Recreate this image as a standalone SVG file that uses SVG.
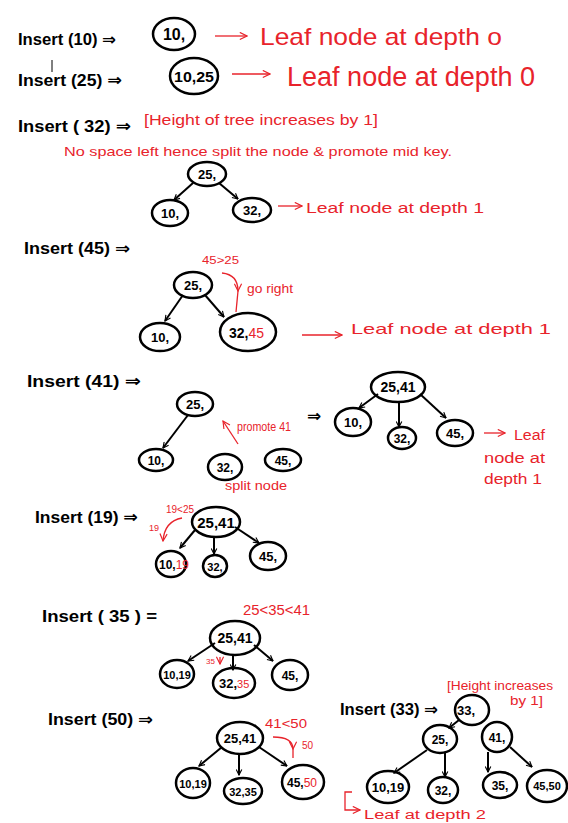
<svg xmlns="http://www.w3.org/2000/svg" width="568" height="823" viewBox="0 0 568 823">
<defs>
<style>
.bg{fill:#fff}
.n{fill:none;stroke:#000;stroke-width:2.5}
.k{font-family:"Liberation Sans","DejaVu Sans",sans-serif;font-weight:bold;fill:#000}
.r{font-family:"Liberation Sans","DejaVu Sans",sans-serif;fill:#e8232b}
.rn{fill:#e8232b;font-weight:normal}
.e{stroke:#000;stroke-width:2;fill:none}
.re{stroke:#e8232b;stroke-width:1.3;fill:none}
</style>
<marker id="ab" viewBox="0 0 10 10" refX="9" refY="5" markerWidth="7" markerHeight="7" orient="auto" markerUnits="userSpaceOnUse">
<path d="M1,1 L9,5 L1,9" fill="none" stroke="#000" stroke-width="1.6"/>
</marker>
<marker id="ar" viewBox="0 0 10 10" refX="9" refY="5" markerWidth="9" markerHeight="9" orient="auto" markerUnits="userSpaceOnUse">
<path d="M1,1 L9,5 L1,9" fill="none" stroke="#e8232b" stroke-width="1.3"/>
</marker>
</defs>
<rect class="bg" width="568" height="823"/>

<g id="labels">
<text class="k" x="18" y="45" font-size="16" textLength="98" lengthAdjust="spacingAndGlyphs">Insert (10) ⇒</text>
<line x1="52" y1="60" x2="52" y2="72" stroke="#000" stroke-width="1"/>
<text class="k" x="18" y="86" font-size="17" textLength="104" lengthAdjust="spacingAndGlyphs">Insert (25) ⇒</text>
<text class="k" x="18" y="132" font-size="17" textLength="113" lengthAdjust="spacingAndGlyphs">Insert ( 32) ⇒</text>
<text class="k" x="24" y="254" font-size="16" textLength="106" lengthAdjust="spacingAndGlyphs">Insert (45) ⇒</text>
<text class="k" x="27" y="387" font-size="17" textLength="114" lengthAdjust="spacingAndGlyphs">Insert (41) ⇒</text>
<text class="k" x="35" y="523" font-size="17" textLength="103" lengthAdjust="spacingAndGlyphs">Insert (19) ⇒</text>
<text class="k" x="42" y="622" font-size="17" textLength="115" lengthAdjust="spacingAndGlyphs">Insert ( 35 ) =</text>
<text class="k" x="48" y="725" font-size="16" textLength="105" lengthAdjust="spacingAndGlyphs">Insert (50) ⇒</text>
<text class="k" x="340" y="715" font-size="16" textLength="98" lengthAdjust="spacingAndGlyphs">Insert (33) ⇒</text>
<text class="k" x="307" y="422" font-size="17">⇒</text>

<text class="r" x="260" y="45" font-size="24" textLength="242" lengthAdjust="spacingAndGlyphs">Leaf node  at  depth  o</text>
<text class="r" x="287" y="86" font-size="27" textLength="248" lengthAdjust="spacingAndGlyphs">Leaf  node  at  depth  0</text>
<text class="r" x="144" y="125" font-size="15" textLength="234" lengthAdjust="spacingAndGlyphs">[Height  of  tree  increases  by 1]</text>
<text class="r" x="64" y="156" font-size="13" textLength="388" lengthAdjust="spacingAndGlyphs">No space left hence split  the  node  &amp; promote  mid key.</text>
<text class="r" x="306" y="213" font-size="14" textLength="178" lengthAdjust="spacingAndGlyphs">Leaf node  at  depth 1</text>
<text class="r" x="202" y="264" font-size="11" textLength="37" lengthAdjust="spacingAndGlyphs">45&gt;25</text>
<text class="r" x="247" y="293" font-size="13" textLength="46" lengthAdjust="spacingAndGlyphs">go right</text>
<text class="r" x="351" y="334" font-size="15" textLength="200" lengthAdjust="spacingAndGlyphs">Leaf node    at   depth  1</text>
<text class="r" x="237" y="431" font-size="12" textLength="54" lengthAdjust="spacingAndGlyphs">promote 41</text>
<text class="r" x="225" y="490" font-size="12" textLength="62" lengthAdjust="spacingAndGlyphs">split node</text>
<text class="r" x="514" y="440" font-size="14" textLength="31" lengthAdjust="spacingAndGlyphs">Leaf</text>
<text class="r" x="484" y="463" font-size="14" textLength="61" lengthAdjust="spacingAndGlyphs">node at</text>
<text class="r" x="484" y="484" font-size="14" textLength="58" lengthAdjust="spacingAndGlyphs">depth 1</text>
<text class="r" x="166" y="513" font-size="11" textLength="28" lengthAdjust="spacingAndGlyphs">19&lt;25</text>
<text class="r" x="149" y="531" font-size="9">19</text>
<text class="r" x="243" y="615" font-size="14" textLength="67" lengthAdjust="spacingAndGlyphs">25&lt;35&lt;41</text>
<text class="r" x="206" y="664" font-size="8">35</text>
<text class="r" x="265" y="728" font-size="13" textLength="42" lengthAdjust="spacingAndGlyphs">41&lt;50</text>
<text class="r" x="302" y="749" font-size="10">50</text>
<text class="r" x="447" y="690" font-size="12" textLength="106" lengthAdjust="spacingAndGlyphs">[Height  increases</text>
<text class="r" x="510" y="705" font-size="12" textLength="33" lengthAdjust="spacingAndGlyphs">by  1]</text>
<text class="r" x="364" y="819" font-size="12" textLength="122" lengthAdjust="spacingAndGlyphs">Leaf at depth 2</text>
</g>

<g id="nodes">
<g id="n10a"><ellipse class="n" cx="174" cy="34" rx="21" ry="16"/><text class="k" x="174" y="40" font-size="16" text-anchor="middle">10,</text></g>
<g id="n1025"><ellipse class="n" cx="194" cy="76" rx="24" ry="18"/><text class="k" x="194" y="82" font-size="15" text-anchor="middle" textLength="40" lengthAdjust="spacingAndGlyphs">10,25</text></g>

<g id="s3_25"><ellipse class="n" cx="207" cy="174" rx="19" ry="12"/><text class="k" x="207" y="179" font-size="13" text-anchor="middle">25,</text></g>
<g id="s3_10"><ellipse class="n" cx="170" cy="213" rx="18" ry="13"/><text class="k" x="170" y="218" font-size="13" text-anchor="middle">10,</text></g>
<g id="s3_32"><ellipse class="n" cx="252" cy="210" rx="19" ry="12"/><text class="k" x="252" y="215" font-size="13" text-anchor="middle">32,</text></g>

<g id="s4_25"><ellipse class="n" cx="193" cy="285" rx="19" ry="13"/><text class="k" x="193" y="290" font-size="13" text-anchor="middle">25,</text></g>
<g id="s4_10"><ellipse class="n" cx="160" cy="337" rx="20" ry="14"/><text class="k" x="160" y="342" font-size="13" text-anchor="middle">10,</text></g>
<g id="s4_3245"><ellipse class="n" cx="248" cy="332" rx="28" ry="19"/><text class="k" x="229" y="338" font-size="14">32,<tspan class="rn">45</tspan></text></g>

<g id="s5_25"><ellipse class="n" cx="195" cy="404" rx="18" ry="12"/><text class="k" x="195" y="409" font-size="13" text-anchor="middle">25,</text></g>
<g id="s5_10"><ellipse class="n" cx="156" cy="460" rx="17" ry="11"/><text class="k" x="156" y="465" font-size="12" text-anchor="middle">10,</text></g>
<g id="s5_32"><ellipse class="n" cx="225" cy="467" rx="17" ry="13"/><text class="k" x="225" y="472" font-size="12" text-anchor="middle">32,</text></g>
<g id="s5_45"><ellipse class="n" cx="283" cy="460" rx="18" ry="11"/><text class="k" x="283" y="465" font-size="12" text-anchor="middle">45,</text></g>
<g id="s5b_2541"><ellipse class="n" cx="398" cy="387" rx="27" ry="15"/><text class="k" x="398" y="392" font-size="14" text-anchor="middle">25,41</text></g>
<g id="s5b_10"><ellipse class="n" cx="353" cy="422" rx="18" ry="14"/><text class="k" x="353" y="427" font-size="13" text-anchor="middle">10,</text></g>
<g id="s5b_32"><ellipse class="n" cx="402" cy="438" rx="14" ry="11"/><text class="k" x="402" y="443" font-size="12" text-anchor="middle">32,</text></g>
<g id="s5b_45"><ellipse class="n" cx="455" cy="433" rx="18" ry="13"/><text class="k" x="455" y="438" font-size="13" text-anchor="middle">45,</text></g>

<g id="s6_2541"><ellipse class="n" cx="216" cy="522" rx="24" ry="15"/><text class="k" x="216" y="528" font-size="15" text-anchor="middle">25,41</text></g>
<g id="s6_1019"><ellipse class="n" cx="171" cy="564" rx="15" ry="13"/><text class="k" x="159" y="569" font-size="12">10,<tspan class="rn">19</tspan></text></g>
<g id="s6_32"><ellipse class="n" cx="215" cy="566" rx="12" ry="11"/><text class="k" x="215" y="571" font-size="11" text-anchor="middle">32,</text></g>
<g id="s6_45"><ellipse class="n" cx="268" cy="556" rx="18" ry="14"/><text class="k" x="268" y="561" font-size="13" text-anchor="middle">45,</text></g>

<g id="s7_2541"><ellipse class="n" cx="235" cy="638" rx="25" ry="17"/><text class="k" x="235" y="643" font-size="14" text-anchor="middle">25,41</text></g>
<g id="s7_1019"><ellipse class="n" cx="177" cy="674" rx="17" ry="14"/><text class="k" x="177" y="679" font-size="11" text-anchor="middle">10,19</text></g>
<g id="s7_3235"><ellipse class="n" cx="234" cy="683" rx="21" ry="15"/><text class="k" x="219" y="688" font-size="13">32,<tspan class="rn" font-size="11">35</tspan></text></g>
<g id="s7_45"><ellipse class="n" cx="290" cy="675" rx="18" ry="15"/><text class="k" x="290" y="680" font-size="12" text-anchor="middle">45,</text></g>

<g id="s8_2541"><ellipse class="n" cx="240" cy="738" rx="23" ry="16"/><text class="k" x="240" y="743" font-size="13" text-anchor="middle">25,41</text></g>
<g id="s8_1019"><ellipse class="n" cx="193" cy="783" rx="17" ry="15"/><text class="k" x="193" y="788" font-size="11" text-anchor="middle">10,19</text></g>
<g id="s8_3235"><ellipse class="n" cx="243" cy="791" rx="19" ry="13"/><text class="k" x="243" y="796" font-size="11" text-anchor="middle">32,35</text></g>
<g id="s8_4550"><ellipse class="n" cx="303" cy="782" rx="21" ry="17"/><text class="k" x="287" y="787" font-size="12">45,<tspan class="rn">50</tspan></text></g>

<g id="s9_33"><ellipse class="n" cx="472" cy="710" rx="17" ry="15"/><text class="k" x="466" y="715" font-size="13" text-anchor="middle">33,</text></g>
<g id="s9_25"><ellipse class="n" cx="440" cy="739" rx="17" ry="14"/><text class="k" x="440" y="744" font-size="12" text-anchor="middle">25,</text></g>
<g id="s9_41"><ellipse class="n" cx="497" cy="737" rx="15" ry="15"/><text class="k" x="497" y="742" font-size="12" text-anchor="middle">41,</text></g>
<g id="s9_1019"><ellipse class="n" cx="388" cy="787" rx="21" ry="16"/><text class="k" x="388" y="792" font-size="13" text-anchor="middle">10,19</text></g>
<g id="s9_32"><ellipse class="n" cx="443" cy="790" rx="15" ry="13"/><text class="k" x="443" y="795" font-size="12" text-anchor="middle">32,</text></g>
<g id="s9_35"><ellipse class="n" cx="500" cy="785" rx="17" ry="13"/><text class="k" x="500" y="790" font-size="12" text-anchor="middle">35,</text></g>
<g id="s9_4550"><ellipse class="n" cx="547" cy="786" rx="20" ry="16"/><text class="k" x="547" y="790" font-size="11" text-anchor="middle">45,50</text></g>
</g>

<g id="connectors">
<line class="re" x1="215" y1="36" x2="247" y2="36" marker-end="url(#ar)"/>
<line class="re" x1="232" y1="74" x2="270" y2="74" marker-end="url(#ar)"/>
<line class="re" x1="278" y1="206" x2="302" y2="206" marker-end="url(#ar)"/>
<line class="re" x1="302" y1="335" x2="342" y2="335" marker-end="url(#ar)"/>
<line class="re" x1="484" y1="433" x2="505" y2="433" marker-end="url(#ar)"/>
<line class="re" x1="238" y1="444" x2="223" y2="421" marker-end="url(#ar)"/>
<path class="re" d="M222,273 C232,274 238,280 238,291" marker-end="url(#ar)"/>
<line class="re" x1="238" y1="291" x2="236" y2="312"/>
<path class="re" d="M182,518 C171,520 164,528 163,541" marker-end="url(#ar)"/>
<path class="re" d="M273,737 C286,737 293,741 293,749" marker-end="url(#ar)"/>
<line class="re" x1="293" y1="749" x2="293" y2="758"/>
<line class="re" x1="220" y1="657" x2="220" y2="664" marker-end="url(#ar)"/>
<path class="re" d="M352,792 L345,792 L345,810 L360,810" marker-end="url(#ar)"/>

<line class="e" x1="193" y1="183" x2="174" y2="200" marker-end="url(#ab)"/>
<line class="e" x1="219" y1="183" x2="238" y2="199" marker-end="url(#ab)"/>
<line class="e" x1="183" y1="295" x2="165" y2="321" marker-end="url(#ab)"/>
<line class="e" x1="205" y1="295" x2="224" y2="317" marker-end="url(#ab)"/>
<line class="e" x1="188" y1="415" x2="163" y2="448" marker-end="url(#ab)"/>
<line class="e" x1="378" y1="394" x2="359" y2="408" marker-end="url(#ab)"/>
<line class="e" x1="399" y1="402" x2="399" y2="427" marker-end="url(#ab)"/>
<line class="e" x1="420" y1="394" x2="446" y2="418" marker-end="url(#ab)"/>
<line class="e" x1="195" y1="530" x2="180" y2="548" marker-end="url(#ab)"/>
<line class="e" x1="214" y1="537" x2="214" y2="554" marker-end="url(#ab)"/>
<line class="e" x1="235" y1="527" x2="259" y2="543" marker-end="url(#ab)"/>
<line class="e" x1="215" y1="643" x2="188" y2="661" marker-end="url(#ab)"/>
<line class="e" x1="233" y1="655" x2="233" y2="670" marker-end="url(#ab)"/>
<line class="e" x1="254" y1="645" x2="273" y2="661" marker-end="url(#ab)"/>
<line class="e" x1="222" y1="747" x2="199" y2="766" marker-end="url(#ab)"/>
<line class="e" x1="239" y1="754" x2="239" y2="775" marker-end="url(#ab)"/>
<line class="e" x1="259" y1="747" x2="287" y2="766" marker-end="url(#ab)"/>
<line class="e" x1="459" y1="720" x2="449" y2="728" marker-end="url(#ab)"/>
<line class="e" x1="427" y1="750" x2="394" y2="773" marker-end="url(#ab)"/>
<line class="e" x1="445" y1="753" x2="445" y2="777" marker-end="url(#ab)"/>
<line class="e" x1="488" y1="752" x2="488" y2="772" marker-end="url(#ab)"/>
<line class="e" x1="510" y1="747" x2="532" y2="767" marker-end="url(#ab)"/>
</g>
</svg>
